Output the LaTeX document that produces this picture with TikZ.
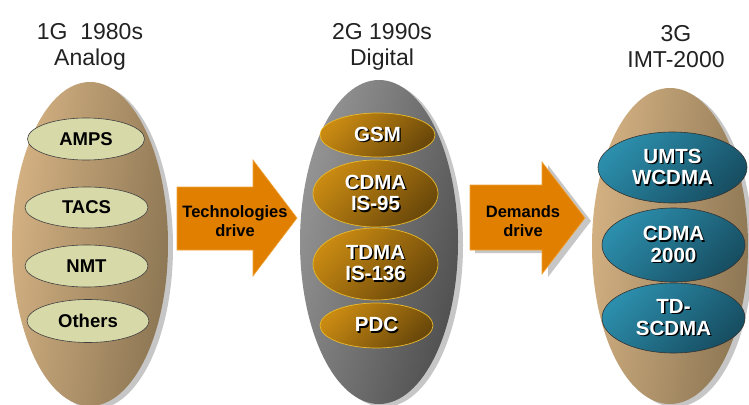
\documentclass[tikz,border=0pt]{standalone}
\usepackage{fontspec}
\setmainfont{Liberation Sans}
\usetikzlibrary{shapes.geometric,shadows}
\definecolor{tanL}{HTML}{D6B384}
\definecolor{tanD}{HTML}{8A7452}
\definecolor{grayL}{HTML}{979797}
\definecolor{grayD}{HTML}{4E4E4E}
\definecolor{shd}{HTML}{C6C6C6}
\definecolor{paleG}{HTML}{D8D9A8}
\definecolor{goldL}{HTML}{C98A12}
\definecolor{goldD}{HTML}{6A480A}
\definecolor{goldB}{HTML}{E9BA2C}
\definecolor{tealL}{HTML}{2C8EAC}
\definecolor{tealD}{HTML}{174E62}
\definecolor{arrowO}{HTML}{E07F00}
\definecolor{arrowB}{HTML}{F0A43C}
\definecolor{titleC}{HTML}{222222}
\newcommand\swt[1]{\leavevmode\rlap{\hspace{1.4pt}\raisebox{-1.4pt}{\color{black}#1}}#1}
\begin{document}
\begin{tikzpicture}[x=1pt,y=-1pt,
  big/.style={ellipse, inner sep=0pt,
    general shadow={fill=shd, shadow xshift=5pt, shadow yshift=-3pt}},
  tanfill/.style={top color=tanL, bottom color=tanD, shading angle=82},
  grayfill/.style={top color=grayL, bottom color=grayD, shading angle=75},
  title/.style={align=center, inner sep=0pt, text=titleC, font=\fontsize{23}{26}\selectfont},
  pale/.style={ellipse, inner sep=0pt, fill=paleG, draw=black!75, line width=0.6pt,
    font=\fontsize{18.5}{20}\selectfont\bfseries},
  gold/.style={ellipse, inner sep=0pt, top color=goldL, bottom color=goldD, shading angle=45,
    draw=goldB, line width=0.7pt, text=white, align=center,
    font=\fontsize{20.5}{21.5}\selectfont\bfseries},
  teal/.style={ellipse, inner sep=0pt, top color=tealL, bottom color=tealD, shading angle=45,
    draw=black!80, line width=0.6pt, text=white, align=center,
    font=\fontsize{20.5}{21.5}\selectfont\bfseries},
  arr/.style={fill=arrowO, draw=arrowB, line width=0.6pt},
  arrtext/.style={align=center, inner sep=0pt, font=\fontsize{16.5}{19}\selectfont\bfseries}
]
\useasboundingbox[fill=white] (0,0) rectangle (749,404);

% titles
\node[title] (t1) at (90,47) {1G\ \ 1980s\\Analog};
\node[title] (t2) at (382,47) {2G 1990s\\Digital};
\node[title] (t3) at (676,47) {3G\\IMT-2000};

% big ellipses
\node[big, tanfill, minimum width=156, minimum height=324] (g1) at (90,244) {};
\node[big, grayfill, minimum width=158, minimum height=324] (g2) at (379,242) {};
\node[big, tanfill, minimum width=156, minimum height=316] (g3) at (670,246) {};

% 1G
\node[pale, minimum width=117, minimum height=42] (a1) at (86,139) {AMPS};
\node[pale, minimum width=123, minimum height=41] (a2) at (86.5,207.5) {TACS};
\node[pale, minimum width=123, minimum height=42] (a3) at (86.5,266) {NMT};
\node[pale, minimum width=122, minimum height=43] (a4) at (88,321) {Others};

% 2G
\node[gold, minimum width=115, minimum height=44] (b1) at (377.5,135) {\swt{GSM}};
\node[gold, minimum width=125, minimum height=67] (b2) at (375.5,193.5) {\swt{CDMA}\\\swt{IS-95}};
\node[gold, minimum width=125, minimum height=72] (b3) at (375.5,264) {\swt{TDMA}\\\swt{IS-136}};
\node[gold, minimum width=113, minimum height=45] (b4) at (376.5,325.5) {\swt{PDC}};

% 3G
\node[teal, minimum width=149, minimum height=71] (c1) at (672.5,167.5) {\swt{UMTS}\\\swt{WCDMA}};
\node[teal, minimum width=143, minimum height=74] (c2) at (673.5,245) {\swt{CDMA}\\\swt{2000}};
\node[teal, minimum width=143, minimum height=70] (c3) at (673.5,318) {\swt{TD-}\\\swt{SCDMA}};

% arrows
\draw[arr] (177,187) -- (253,187) -- (253,160) -- (297,218) -- (253,276) -- (253,250) -- (177,250) -- cycle;
\node[arrtext] (d1) at (235,221.5) {Technologies\\drive};
\fill[shd] (475,188) -- (548,188) -- (548,165) -- (591,221) -- (548,277) -- (548,253) -- (475,253) -- cycle;
\draw[arr] (470,185) -- (542,185) -- (542,162) -- (585,218) -- (542,274) -- (542,250) -- (470,250) -- cycle;
\node[arrtext] (d2) at (523,221.5) {Demands\\drive};
\end{tikzpicture}
\end{document}
